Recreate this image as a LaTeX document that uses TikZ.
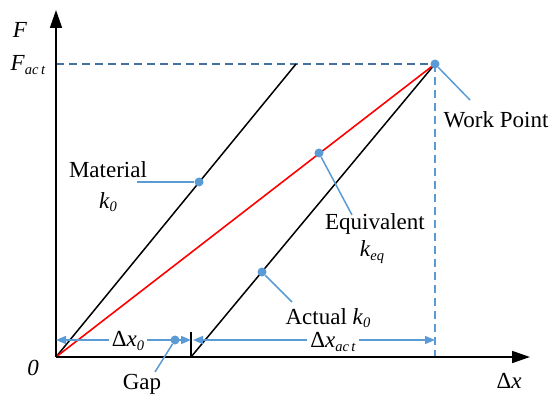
\documentclass[tikz,border=0pt]{standalone}
\usepackage{fontspec}
\setmainfont{Liberation Serif}
\newfontfamily\tnr{Liberation Serif}
\usetikzlibrary{arrows.meta}
\definecolor{lblue}{RGB}{91,155,213}
\definecolor{dblue}{RGB}{68,114,160}
\newcommand{\sbs}[1]{\raisebox{-0.35ex}{\fontsize{14.5}{16}\selectfont\textit{#1}}}
\tikzset{
  axisline/.style={line width=1.8pt,-{Triangle[length=18pt,width=12pt]}},
  blackline/.style={line width=1.5pt},
  redline/.style={line width=1.6pt,red},
  dashblue/.style={line width=1.5pt,dash pattern=on 8pt off 5pt},
  conn/.style={line width=1.5pt,lblue},
  dimarrow/.style={line width=1.5pt,lblue,-{Triangle[length=10pt,width=8pt]}},
  dot/.style={circle,fill=lblue,inner sep=0pt,minimum size=9pt},
  lbl/.style={inner sep=0pt,font=\tnr\fontsize{23}{27}\selectfont},
}
\begin{document}
\begin{tikzpicture}[x=1pt,y=-1pt]
\useasboundingbox (0,0) rectangle (551,398);
% points
\coordinate (O) at (56,357);
\coordinate (Ytip) at (56,10);
\coordinate (Xtip) at (530,357);
\coordinate (Mtop) at (296,64);
\coordinate (Abot) at (191,357);
\coordinate (WP) at (435,64);
\coordinate (Fy) at (56,64);
\coordinate (WPx) at (435,357);
\coordinate (TickTop) at (191,332);
% dashed guides
\draw[dashblue,dblue] (Fy) -- (WP);
\draw[dashblue,lblue] (WP) -- (WPx);
% lines
\draw[blackline] (O) -- (Mtop);
\draw[blackline] (Abot) -- (WP);
\draw[redline] (O) -- (WP);
\draw[blackline] (Abot) -- (TickTop);
% axes
\draw[axisline] (O) -- (Ytip);
\draw[axisline] (O) -- (Xtip);
% labels
\node[lbl] (F) at (20,30) {\textit{F}};
\node[lbl] (Fact) at (28,65) {\textit{F}\sbs{ac\,t}};
\node[lbl] (zero) at (33,368) {\textit{0}};
\node[lbl] (dx) at (509,381) {Δ\textit{x}};
\node[lbl] (gap) at (142,384) {Gap};
\node[lbl] (mat) at (108,170) {Material};
\node[lbl] (k0m) at (108,202) {\textit{k}\sbs{0}};
\node[lbl] (eq) at (375,224) {Equivalent};
\node[lbl] (keq) at (372,252) {\textit{k}\sbs{eq}};
\node[lbl] (act) at (328,318) {Actual \textit{k}\sbs{0}};
\node[lbl] (wp) at (496,120) {Work Point};
\node[lbl] (dx0) at (128,341) {Δ\textit{x}\sbs{0}};
\node[lbl] (dxact) at (333,342) {Δ\textit{x}\sbs{ac\,t}};
% dimension arrows
\coordinate (d0L) at (56,340);
\coordinate (d0R) at (191,340);
\coordinate (daL) at (193,340);
\coordinate (daR) at (435,340);
\draw[dimarrow] (dx0.west |- d0L) ++(-3,0) -- (d0L);
\draw[dimarrow] (dx0.east |- d0L) ++(3,0) -- (d0R);
\draw[dimarrow] (dxact.west |- daL) ++(-3,0) -- (daL);
\draw[dimarrow] (dxact.east |- daL) ++(3,0) -- (daR);
% dots and connectors
\node[dot] (gapdot) at (175,340) {};
\coordinate (gapend) at (155,372);
\draw[conn] (gapend) -- (gapdot);
\node[dot] (mdot) at (199,182) {};
\coordinate (mend) at (137,182);
\draw[conn] (mend) -- (mdot);
\node[dot] (edot) at (319,153) {};
\coordinate (eend) at (352,215);
\draw[conn] (eend) -- (edot);
\node[dot] (adot) at (262,272) {};
\coordinate (aend) at (292,302);
\draw[conn] (aend) -- (adot);
\node[dot] (wdot) at (WP) {};
\coordinate (wend) at (470,100);
\draw[conn] (wend) -- (wdot);
\end{tikzpicture}
\end{document}
